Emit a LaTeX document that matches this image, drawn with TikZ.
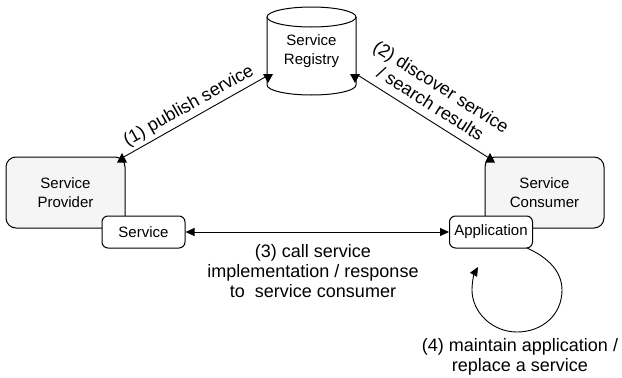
\documentclass[tikz,border=0pt]{standalone}
\usepackage{fontspec}
\setmainfont{Liberation Sans}
\usetikzlibrary{arrows.meta}
\begin{document}
\begin{tikzpicture}[x=1pt,y=-1pt,
  bigbox/.style={draw, line width=1pt, rounded corners=10pt, fill=black!4,
    minimum width=119pt, minimum height=71pt, inner sep=0pt, align=center,
    font={\fontsize{15}{18.5}\selectfont}},
  smallbox/.style={draw, line width=1pt, rounded corners=6pt, fill=white,
    minimum width=83pt, minimum height=32pt, inner sep=0pt,
    font={\fontsize{15}{18.5}\selectfont}},
  line/.style={line width=0.9pt},
  conn/.style={line width=0.9pt, {Triangle[length=9pt,width=8pt]}-{Triangle[length=9pt,width=8pt]}},
  head/.style={line width=0.9pt, -{Triangle[length=9pt,width=8pt]}},
  lbl/.style={font={\fontsize{18}{20}\selectfont}, align=center, inner sep=0pt}
]
\useasboundingbox (0,0) rectangle (622,378);
% Registry cylinder
\filldraw[fill=white, line width=1pt] (267,17) -- (267,85) arc[start angle=180, end angle=360, x radius=44.5pt, y radius=10pt] -- (356,17);
\draw[fill=white, line width=1pt] (311.5,17) ellipse[x radius=44.5pt, y radius=10pt];
\node[inner sep=0pt, align=center, font={\fontsize{15}{18.5}\selectfont}] (reg) at (311.5,51) {Service\\Registry};
% boxes
\node[bigbox] (prov) at (65.5,192.5) {Service\\Provider};
\node[bigbox] (cons) at (544.5,192.5) {Service\\Consumer};
\node[smallbox] (svc) at (143.5,232) {Service};
\node[smallbox] (app) at (491,232) {Application};
% connector end points and arrow tips
\coordinate (provE) at (122,158);
\coordinate (provT) at (122,153);
\coordinate (consE) at (489,158);
\coordinate (consT) at (490,153);
\coordinate (regLE) at (267,76);
\coordinate (regLT) at (268,83);
\coordinate (regRE) at (356,74);
\coordinate (regRT) at (355,83);
% connector (1)
\draw[line] (provE) -- (regLE);
\fill (provT) -- ++(-5,9.5) -- ++(10,0) -- cycle;
\fill (regLT) -- ++(-5,-9) -- ++(10,0) -- cycle;
\node[lbl, rotate=29.5] (l1) at (189,106) {(1) publish service};
% connector (2)
\draw[line] (regRE) -- (consE);
\fill (regRT) -- ++(-5,-9) -- ++(10,0) -- cycle;
\fill (consT) -- ++(-5,9.5) -- ++(10,0) -- cycle;
\node[lbl, rotate=-32.3] (l2) at (436,95) {(2) discover service\\/ search results};
% connector (3)
\draw[conn] (svc.east) -- (app.west);
\node[lbl] (l3) at (313,271) {(3) call service\\implementation / response\\to\ \ service consumer};
% loop (4)
\coordinate (loopS) at (527,248);
\coordinate (loopE) at (478,267);
\draw[head] (loopS) .. controls (549,258) and (562,272) .. (562,290)
  .. controls (562,315) and (542,332) .. (517,332)
  .. controls (492,332) and (472,312) .. (472,290)
  .. controls (472,282) and (474,274) .. (loopE);
\node[lbl] (l4) at (520,357) {(4) maintain application /\\replace a service};
\end{tikzpicture}
\end{document}
